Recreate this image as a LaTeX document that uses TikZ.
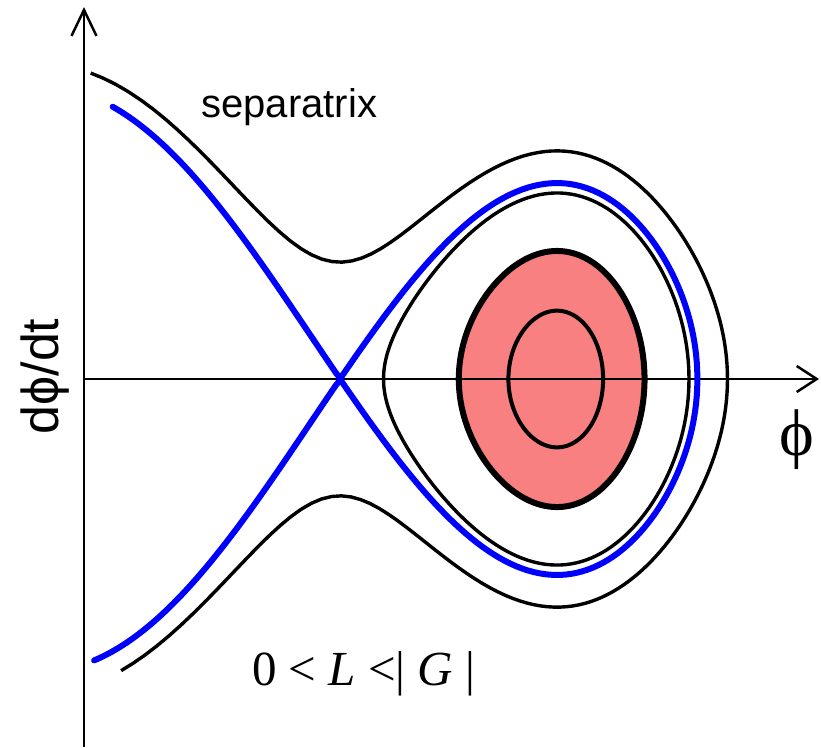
\documentclass[tikz,border=0pt]{standalone}
\usepackage{fontspec}
\setmainfont{Liberation Serif}
\newfontfamily\labelsans{Liberation Sans}
\usepackage{tikz}
\usetikzlibrary{arrows.meta}
\definecolor{islandpink}{RGB}{248,128,128}
\definecolor{sepblue}{RGB}{0,0,255}
\tikzset{
  axis line/.style={
    line width=1.25pt,
    draw=black,
  },
  orbit/.style={
    line width=1.7pt,
    draw=black,
    line join=round,
  },
  separatrix line/.style={
    line width=3pt,
    draw=sepblue,
    line join=round,
    line cap=round,
  },
  plot label/.style={
    inner sep=0pt,
    text=black,
  },
  declare function={
    Vpot(\x)=-cos(deg(\x))+0.25*(\x);
    pmom(\x,\e)=sqrt(max(0,2*((\e)-Vpot(\x))));
  },
}

\begin{document}
\begin{tikzpicture}[x=41.15pt,y=61.3pt]
  \useasboundingbox (-7.0206,-3.0016) rectangle (2.9551,3.0914);
  \coordinate (origin) at (-6,0);
  \coordinate (ytop) at (-6,3.034);
  \coordinate (ybottom) at (-6,-3.0016);
  \coordinate (xend) at (2.931,0);

  % filled orbit round the centre
  \draw[orbit, line width=3pt, fill=islandpink]
    plot[domain=0:180, samples=90, variable=\t]
      ({-0.3175-1.1305*cos(\t)},{pmom(-0.3175-1.1305*cos(\t),-0.486)})
    -- plot[domain=180:360, samples=90, variable=\t]
      ({-0.3175-1.1305*cos(\t)},{-pmom(-0.3175-1.1305*cos(\t),-0.486)})
    -- cycle;

  % axes
  \draw[axis line, -{Straight Barb[length=13pt,width=12.5pt]}] (ybottom) -- (ytop);
  \draw[axis line, -{Straight Barb[length=10pt,width=13pt]}] (origin) -- (xend);

  % small orbit
  \draw[orbit, line width=2pt]
    plot[domain=0:180, samples=90, variable=\t]
      ({-0.2675-0.5775*cos(\t)},{pmom(-0.2675-0.5775*cos(\t),-0.876)})
    -- plot[domain=180:360, samples=90, variable=\t]
      ({-0.2675-0.5775*cos(\t)},{-pmom(-0.2675-0.5775*cos(\t),-0.876)})
    -- cycle;

  % orbit just inside the separatrix
  \draw[orbit]
    plot[domain=0:180, samples=90, variable=\t]
      ({-0.5045-1.8575*cos(\t)},{pmom(-0.5045-1.8575*cos(\t),0.12)})
    -- plot[domain=180:360, samples=90, variable=\t]
      ({-0.5045-1.8575*cos(\t)},{-pmom(-0.5045-1.8575*cos(\t),0.12)})
    -- cycle;

  % open orbit outside
  \draw[orbit]
    plot[domain=1:0, samples=100, variable=\s]
      ({1.82-7.7386*\s*\s},{pmom(1.82-7.7386*\s*\s,0.70)})
    -- plot[domain=0:1, samples=100, variable=\s]
      ({1.82-7.391*\s*\s},{-pmom(1.82-7.391*\s*\s,0.70)});

  % separatrix
  \draw[separatrix line]
    plot[domain=-5.6513:-2.88891, samples=60, variable=\s]
      ({\s},{pmom(\s,0.246018)})
    -- plot[domain=0:180, samples=100, variable=\t]
      ({-0.716955-2.171955*cos(\t)},{pmom(-0.716955-2.171955*cos(\t),0.246018)})
    -- plot[domain=180:360, samples=100, variable=\t]
      ({-0.716955-2.171955*cos(\t)},{-pmom(-0.716955-2.171955*cos(\t),0.246018)})
    -- plot[domain=-2.88891:-5.8785, samples=60, variable=\s]
      ({\s},{-pmom(\s,0.246018)});

  % labels
  \node[plot label, anchor=base west, font=\labelsans\fontsize{20}{24}\selectfont]
    (septext) at (-4.578,2.137) {separatrix};
  \node[plot label, rotate=90, anchor=base, font=\labelsans\fontsize{26}{31}\selectfont]
    (ylabel) at (-6.3037,0.02) {dϕ/dt};
  \node[plot label, anchor=base, font=\fontsize{33}{40}\selectfont]
    (xlabel) at (2.6635,-0.620) {ϕ};
  \node[plot label, anchor=base west, font=\fontsize{24.5}{30}\selectfont]
    (condtext) at (-3.9624,-2.496) {0 < \textit{L} <| \textit{G} |};
\end{tikzpicture}
\end{document}
